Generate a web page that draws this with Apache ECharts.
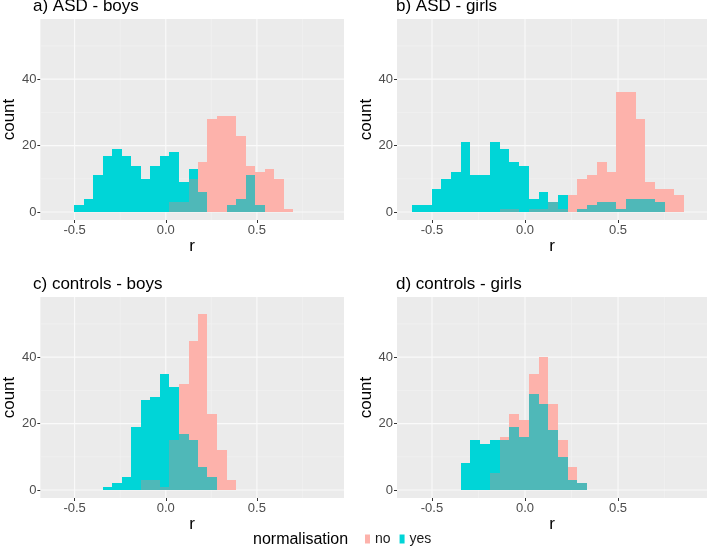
<!DOCTYPE html>
<html>
<head>
<meta charset="utf-8">
<script src="https://cdn.jsdelivr.net/npm/echarts@6/dist/echarts.min.js"></script>
<style>
  html, body {margin: 0; padding: 0; background: #fff;}
  #chart {width: 708px; height: 550px;}
</style>
</head>
<body>
<div id="chart"></div>
<script>
// histogram bin edges (r), shared by all panels
var binEdges = [-0.606, -0.554, -0.502, -0.449, -0.397, -0.345, -0.293, -0.241, -0.188, -0.136,
  -0.084, -0.032, 0.020, 0.073, 0.125, 0.177, 0.229, 0.281, 0.334, 0.386,
  0.438, 0.490, 0.542, 0.595, 0.647, 0.699, 0.751, 0.803, 0.856];

// counts per bin, normalisation = no / yes
var asdBoysNo = [0, 0, 0, 0, 0, 0, 0, 0, 0, 0, 0, 0, 3, 3, 10, 15, 28, 29, 29, 23, 14, 12, 13, 10, 1, 0, 0, 0];
var asdBoysYes = [0, 0, 2, 4, 11, 17, 19, 17, 14, 10, 14, 17, 18, 9, 13, 6, 0, 0, 2, 4, 11, 2, 0, 0, 0, 0, 0, 0];
var asdGirlsNo = [0, 0, 0, 0, 0, 0, 0, 0, 0, 1, 1, 0, 1, 1, 3, 1, 5, 10, 11, 15, 12, 36, 36, 28, 9, 7, 7, 5];
var asdGirlsYes = [2, 2, 7, 10, 12, 21, 11, 11, 21, 19, 15, 14, 4, 6, 3, 5, 0, 1, 2, 3, 3, 1, 4, 4, 4, 3, 0, 0];
var ctrlBoysNo = [0, 0, 0, 0, 0, 0, 0, 0, 0, 3, 3, 1, 15, 32, 45, 53, 23, 12, 3, 0, 0, 0, 0, 0, 0, 0, 0, 0];
var ctrlBoysYes = [0, 0, 0, 0, 0, 1, 2, 4, 19, 27, 28, 35, 31, 17, 15, 7, 4, 0, 0, 0, 0, 0, 0, 0, 0, 0, 0, 0];
var ctrlGirlsNo = [0, 0, 0, 0, 0, 0, 0, 0, 5, 16, 23, 21, 35, 40, 26, 15, 7, 2, 0, 0, 0, 0, 0, 0, 0, 0, 0, 0];
var ctrlGirlsYes = [0, 0, 0, 0, 0, 8, 15, 14, 15, 15, 19, 16, 29, 26, 18, 10, 3, 2, 0, 0, 0, 0, 0, 0, 0, 0, 0, 0];

var panelTitles = ['a) ASD - boys', 'b) ASD - girls', 'c) controls - boys', 'd) controls - girls'];
var xTicks = [-0.5, 0.0, 0.5];
var yTicks = [0, 20, 40];
var xMinor = [-0.25, 0.25, 0.75];
var yMinor = [10, 30, 50];

var panels = [
  {no: asdBoysNo, yes: asdBoysYes},
  {no: asdGirlsNo, yes: asdGirlsYes},
  {no: ctrlBoysNo, yes: ctrlBoysYes},
  {no: ctrlGirlsNo, yes: ctrlGirlsYes}
];

var colNo = '#FDB2AB', colYes = '#00D5D7', colBoth = '#4FB8B8';
var font = 'Liberation Sans';

var gridPos = [
  {left: 34, top: 19},
  {left: 397, top: 19},
  {left: 34, top: 297},
  {left: 397, top: 297}
];

// pixel-snapped rect so neighbouring bins join without seams
function rectOf(api, x0, x1, h) {
  var a = api.coord([x0, 0]);
  var b = api.coord([x1, h]);
  var l = Math.round(a[0]), r = Math.round(b[0]);
  var t = Math.round(b[1]), bt = Math.round(a[1]);
  return {x: l, y: t, width: r - l, height: bt - t};
}

// grid lines as [direction, value, major]
var gridLines = [];
xMinor.forEach(function (v) { gridLines.push([0, v, 0]); });
yMinor.forEach(function (v) { gridLines.push([1, v, 0]); });
xTicks.forEach(function (v) { gridLines.push([0, v, 1]); });
yTicks.forEach(function (v) { gridLines.push([1, v, 1]); });

var option = {
  animation: false,
  backgroundColor: '#fff',
  title: [],
  grid: [],
  xAxis: [],
  yAxis: [],
  series: [],
  legend: {
    data: ['no', 'yes'],
    left: 365,
    top: 532,
    padding: 0,
    icon: 'rect',
    itemWidth: 5,
    itemHeight: 9,
    itemGap: 9,
    textStyle: {fontFamily: font, fontSize: 14, color: '#1A1A1A'}
  },
  graphic: [{
    type: 'text',
    left: 253,
    top: 532,
    style: {text: 'normalisation', fontFamily: font, fontSize: 16, fill: '#000'}
  }]
};

panels.forEach(function (p, i) {
  option.title.push({
    text: panelTitles[i],
    left: gridPos[i].left - 1,
    top: gridPos[i].top - 21,
    padding: 0,
    textStyle: {fontFamily: font, fontSize: 17, fontWeight: 'normal', color: '#000'}
  });
  option.grid.push({
    left: gridPos[i].left, top: gridPos[i].top, width: 310, height: 201,
    show: true, backgroundColor: '#EBEBEB', borderWidth: 0
  });
  option.xAxis.push({
    type: 'value', gridIndex: i, min: -0.688, max: 0.978,
    name: 'r', nameLocation: 'middle', nameGap: 18,
    nameTextStyle: {fontFamily: font, fontSize: 17, color: '#000'},
    axisLine: {show: false, onZero: false},
    axisTick: {show: true, length: 3, customValues: xTicks, lineStyle: {color: '#333'}},
    axisLabel: {customValues: xTicks, margin: 4, fontFamily: font, fontSize: 13, color: '#4D4D4D',
      formatter: function (v) { return v.toFixed(1); }},
    splitLine: {show: false}
  });
  option.yAxis.push({
    type: 'value', gridIndex: i, min: -2.4, max: 58.1,
    name: 'count', nameLocation: 'middle', nameGap: 22,
    nameTextStyle: {fontFamily: font, fontSize: 17, color: '#000'},
    axisLine: {show: false, onZero: false},
    axisTick: {show: true, length: 3, customValues: yTicks, lineStyle: {color: '#333'}},
    axisLabel: {customValues: yTicks, margin: 4, fontFamily: font, fontSize: 13, color: '#4D4D4D'},
    splitLine: {show: false}
  });

  // panel grid lines (white, behind the bars)
  option.series.push({
    type: 'custom', xAxisIndex: i, yAxisIndex: i, z: 1, silent: true,
    encode: {x: 1, y: 1},
    renderItem: function (params, api) {
      var cs = params.coordSys;
      var p0 = api.coord([api.value(1), api.value(1)]);
      var shape = api.value(0) === 0
        ? {x1: p0[0], y1: cs.y, x2: p0[0], y2: cs.y + cs.height}
        : {x1: cs.x, y1: p0[1], x2: cs.x + cs.width, y2: p0[1]};
      var major = api.value(2) === 1;
      return {type: 'line', shape: shape,
        style: {stroke: major ? '#FAFAFA' : '#F4F4F4', lineWidth: major ? 1.1 : 0.6}};
    },
    data: gridLines
  });

  var noData = [], yesData = [];
  for (var k = 0; k < p.no.length; k++) {
    noData.push([binEdges[k], binEdges[k + 1], p.no[k], p.yes[k]]);
    yesData.push([binEdges[k], binEdges[k + 1], p.yes[k], p.no[k]]);
  }

  option.series.push({
    name: 'no', type: 'custom', xAxisIndex: i, yAxisIndex: i, z: 2,
    itemStyle: {color: colNo},
    encode: {x: [0, 1], y: 2},
    renderItem: function (params, api) {
      if (!api.value(2)) return null;
      return {type: 'rect', shape: rectOf(api, api.value(0), api.value(1), api.value(2)), style: {fill: colNo}};
    },
    data: noData
  });
  option.series.push({
    name: 'yes', type: 'custom', xAxisIndex: i, yAxisIndex: i, z: 3,
    itemStyle: {color: colYes},
    encode: {x: [0, 1], y: 2},
    renderItem: function (params, api) {
      var y = api.value(2), n = api.value(3);
      if (!y) return null;
      var kids = [{type: 'rect', shape: rectOf(api, api.value(0), api.value(1), y), style: {fill: colYes}}];
      var both = Math.min(y, n);
      if (both > 0) {
        kids.push({type: 'rect', shape: rectOf(api, api.value(0), api.value(1), both), style: {fill: colBoth}});
      }
      return {type: 'group', children: kids};
    },
    data: yesData
  });
});

var chart = echarts.init(document.getElementById('chart'));
chart.setOption(option);
</script>
</body>
</html>
